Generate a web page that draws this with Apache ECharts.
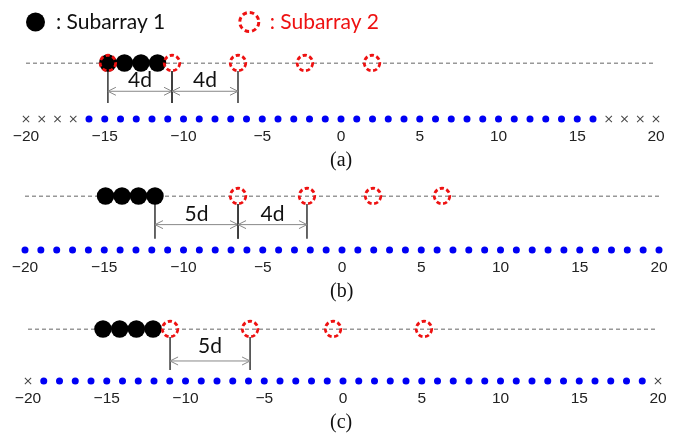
<!DOCTYPE html>
<html>
<head>
<meta charset="utf-8">
<script src="https://cdn.jsdelivr.net/npm/echarts@6/dist/echarts.min.js"></script>
<style>
  html, body { margin: 0; padding: 0; background: #fff; }
  #chart { width: 687px; height: 437px; }
</style>
</head>
<body>
<div id="chart"></div>
<script>
// ---------- data ----------
const AXIS_MIN = -20;
const AXIS_MAX = 20;
const TICK_VALUES = [-20, -15, -10, -5, 0, 5, 10, 15, 20];
const PANEL_LABELS = ['(a)', '(b)', '(c)'];
const SERIES_NAMES = ['Subarray 1', 'Subarray 2'];

// element grid (blue dots = elements, crosses = unused positions)
const A_DOTS = [-16,-15,-14,-13,-12,-11,-10,-9,-8,-7,-6,-5,-4,-3,-2,-1,0,1,2,3,4,5,6,7,8,9,10,11,12,13,14,15,16];
const A_CROSSES = [-20,-19,-18,-17,17,18,19,20];
const B_DOTS = [-20,-19,-18,-17,-16,-15,-14,-13,-12,-11,-10,-9,-8,-7,-6,-5,-4,-3,-2,-1,0,1,2,3,4,5,6,7,8,9,10,11,12,13,14,15,16,17,18,19,20];
const B_CROSSES = [];
const C_DOTS = [-19,-18,-17,-16,-15,-14,-13,-12,-11,-10,-9,-8,-7,-6,-5,-4,-3,-2,-1,0,1,2,3,4,5,6,7,8,9,10,11,12,13,14,15,16,17,18,19];
const C_CROSSES = [-20, 20];

// schematic positions (in axis units)
const A_SUB1 = [-14.8, -13.75, -12.7, -11.65];
const A_SUB2 = [-14.8, -10.73, -6.54, -2.29, 1.97];
const B_SUB1 = [-14.92, -13.88, -12.84, -11.8];
const B_SUB2 = [-6.56, -2.21, 1.96, 6.31];
const C_SUB1 = [-15.24, -14.18, -13.12, -12.06];
const C_SUB2 = [-10.98, -5.9, -0.63, 5.14];

// dimension annotations: [from, to, label]
const A_DIMS = [[-14.8, -10.73, '4d'], [-10.73, -6.54, '4d']];
const B_DIMS = [[-11.8, -6.56, '5d'], [-6.56, -2.21, '4d']];
const C_DIMS = [[-10.98, -5.9, '5d']];

const PANEL_DATA = [
  { dots: A_DOTS, crosses: A_CROSSES, sub1: A_SUB1, sub2: A_SUB2, dims: A_DIMS },
  { dots: B_DOTS, crosses: B_CROSSES, sub1: B_SUB1, sub2: B_SUB2, dims: B_DIMS },
  { dots: C_DOTS, crosses: C_CROSSES, sub1: C_SUB1, sub2: C_SUB2, dims: C_DIMS }
];

// ---------- layout ----------
const LAYOUT = [
  { left: 26, right: 31, top: 63, height: 56, vBottom: 0.286, arrowY: 0.495, textY: 0.70, labelTop: 151 },
  { left: 25, right: 28, top: 196, height: 54, vBottom: 0.21, arrowY: 0.47, textY: 0.67, labelTop: 282 },
  { left: 28, right: 29, top: 329, height: 52, vBottom: 0.21, arrowY: 0.385, textY: 0.67, labelTop: 413 }
];

const RED = '#ee1111';
const BLUE = '#0000f5';
const CROSS_PATH = 'path://M0,1L1,0L5,4L9,0L10,1L6,5L10,9L9,10L5,6L1,10L0,9L4,5Z';
const SUB2_STYLE = { color: 'rgba(255,255,255,0)', borderColor: RED, borderWidth: 2.8, borderType: [4.2, 2.6], opacity: 1 };

const grids = [], xAxes = [], yAxes = [], series = [], titles = [];

LAYOUT.forEach((L, i) => {
  const P = PANEL_DATA[i];
  grids.push({ left: L.left, right: L.right, top: L.top, height: L.height });
  xAxes.push({
    type: 'value', gridIndex: i, min: AXIS_MIN, max: AXIS_MAX, interval: 5,
    axisLine: { show: false }, axisTick: { show: false }, splitLine: { show: false },
    axisLabel: {
      customValues: TICK_VALUES,
      margin: 10,
      fontFamily: 'Liberation Sans, Arial, sans-serif',
      fontSize: 15.5, color: '#222',
      formatter: v => String(v).replace('-', '\u2212')
    }
  });
  yAxes.push({ type: 'value', gridIndex: i, min: 0, max: 1, show: false });

  titles.push({
    text: PANEL_LABELS[i], left: 330, top: L.labelTop, padding: 0,
    textStyle: { fontFamily: 'Liberation Serif, Times New Roman, serif', fontSize: 20, fontWeight: 'normal', color: '#111' }
  });

  // dashed baseline of the schematic
  series.push({
    type: 'line', xAxisIndex: i, yAxisIndex: i, silent: true, z: 1,
    symbol: 'none',
    data: [[AXIS_MIN, 1], [AXIS_MAX, 1]],
    lineStyle: { color: '#333', width: 1, type: [4, 3] }
  });

  // dimension annotations
  const dims = P.dims;
  const lay = L;
  series.push({
    type: 'custom', xAxisIndex: i, yAxisIndex: i, silent: true, z: 2, clip: false,
    data: dims.map(d => [d[0], 1, d[1]]),
    encode: { x: [0, 2], y: 1 },
    renderItem: function (params, api) {
      const d = dims[params.dataIndex];
      const t1 = api.coord([d[0], 1]), b1 = api.coord([d[0], lay.vBottom]);
      const t2 = api.coord([d[1], 1]), b2 = api.coord([d[1], lay.vBottom]);
      const a1 = api.coord([d[0], lay.arrowY]), a2 = api.coord([d[1], lay.arrowY]);
      const tc = api.coord([(d[0] + d[1]) / 2, lay.textY]);
      const vStyle = { stroke: '#333', lineWidth: 1.5 };
      const aStyle = { stroke: '#888', lineWidth: 1, fill: null };
      return {
        type: 'group',
        children: [
          { type: 'line', shape: { x1: t1[0], y1: t1[1] + 8, x2: b1[0], y2: b1[1] }, style: vStyle },
          { type: 'line', shape: { x1: t2[0], y1: t2[1] + 8, x2: b2[0], y2: b2[1] }, style: vStyle },
          { type: 'line', shape: { x1: a1[0], y1: a1[1], x2: a2[0], y2: a2[1] }, style: aStyle },
          { type: 'polyline', shape: { points: [[a1[0] + 8, a1[1] - 4], [a1[0], a1[1]], [a1[0] + 8, a1[1] + 4]] }, style: aStyle },
          { type: 'polyline', shape: { points: [[a2[0] - 8, a2[1] - 4], [a2[0], a2[1]], [a2[0] - 8, a2[1] + 4]] }, style: aStyle },
          { type: 'text', style: { text: d[2], x: tc[0], y: tc[1], align: 'center', verticalAlign: 'middle', fontFamily: 'Lato, sans-serif', fontSize: 21, fill: '#111' } }
        ]
      };
    }
  });

  // element dots
  series.push({
    type: 'scatter', xAxisIndex: i, yAxisIndex: i, silent: true, z: 2, clip: false,
    symbol: 'circle', symbolSize: 7,
    itemStyle: { color: BLUE, opacity: 1 },
    data: P.dots.map(x => [x, 0])
  });
  series.push({
    type: 'scatter', xAxisIndex: i, yAxisIndex: i, silent: true, z: 2, clip: false,
    symbol: CROSS_PATH, symbolSize: 7,
    itemStyle: { color: '#444', opacity: 1 },
    data: P.crosses.map(x => [x, 0])
  });

  // subarrays
  series.push({
    name: SERIES_NAMES[0], type: 'scatter', xAxisIndex: i, yAxisIndex: i, z: 3, clip: false,
    symbol: 'circle', symbolSize: 17.5,
    itemStyle: { color: '#000', opacity: 1 },
    data: P.sub1.map(x => [x, 1])
  });
  series.push({
    name: SERIES_NAMES[1], type: 'scatter', xAxisIndex: i, yAxisIndex: i, z: 4, clip: false,
    symbol: 'circle', symbolSize: 15.5,
    itemStyle: SUB2_STYLE,
    data: P.sub2.map(x => [x, 1])
  });
});

const chart = echarts.init(document.getElementById('chart'), null, { renderer: 'canvas' });
chart.setOption({
  animation: false,
  backgroundColor: '#fff',
  title: titles,
  legend: {
    left: 21, top: 6,
    icon: 'circle', itemWidth: 20, itemHeight: 19, itemGap: 73,
    selectedMode: false,
    formatter: ' : {name}',
    textStyle: { fontFamily: 'Lato, sans-serif', fontSize: 21, color: '#111' },
    data: [
      { name: SERIES_NAMES[0], textStyle: { color: '#111' }, itemStyle: { color: '#000', opacity: 1 } },
      { name: SERIES_NAMES[1], textStyle: { color: RED },
        itemStyle: { color: 'rgba(255,255,255,0)', borderColor: RED, borderWidth: 3, borderType: [4.5, 3], opacity: 1 } }
    ]
  },
  grid: grids,
  xAxis: xAxes,
  yAxis: yAxes,
  series: series
});
</script>
</body>
</html>
